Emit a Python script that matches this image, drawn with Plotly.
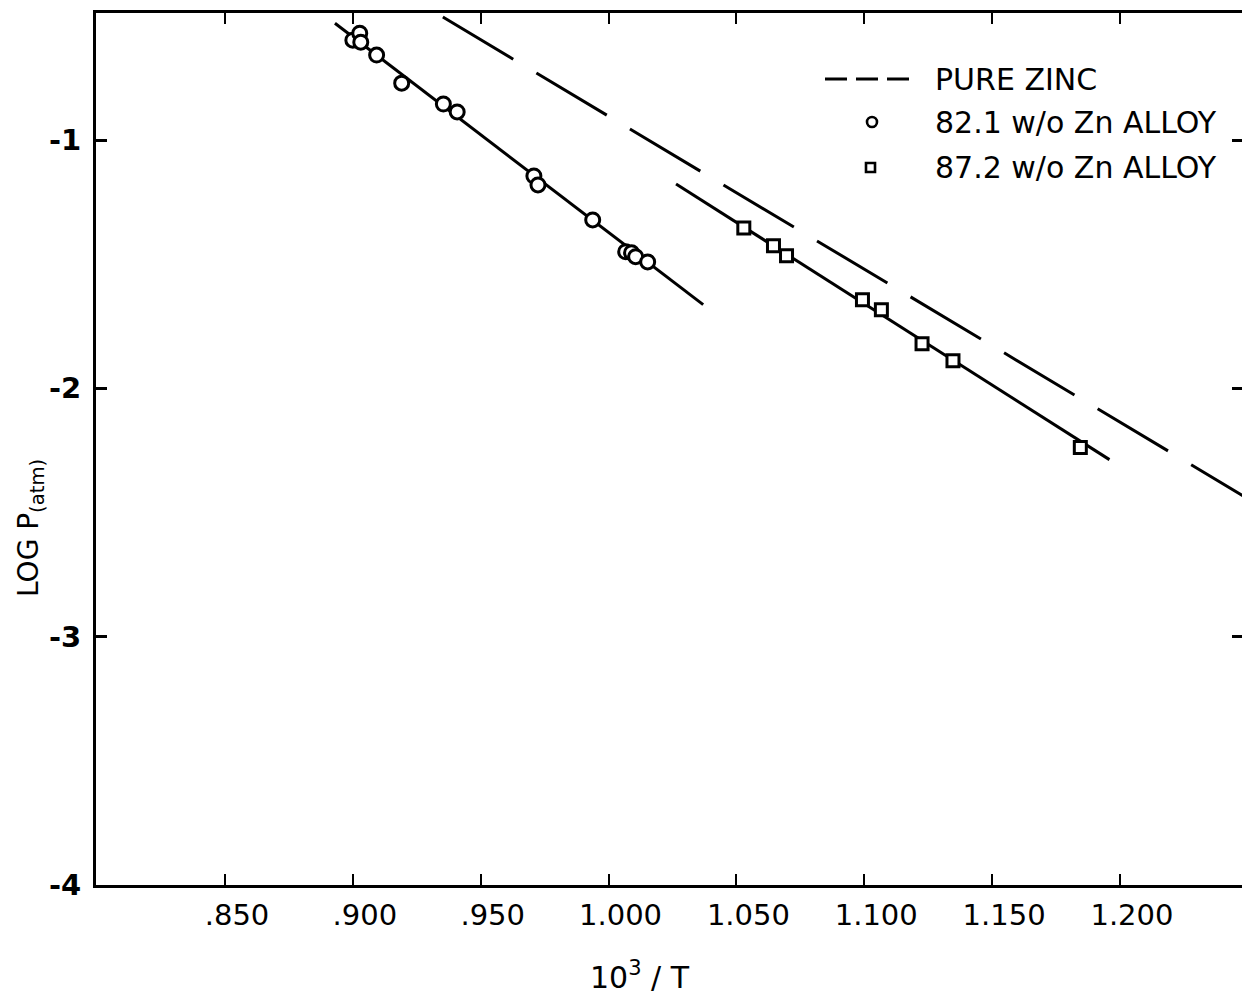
import plotly.graph_objects as go

# 82.1 w/o Zn alloy: measured points (10^3/T, log P)
alloy_821_x = [0.9000, 0.9027, 0.9031, 0.9093, 0.9191, 0.9354, 0.9408,
               0.9708, 0.9724, 0.9938, 1.0067, 1.0090, 1.0106, 1.0153]
alloy_821_y = [-0.598, -0.570, -0.606, -0.658, -0.771, -0.855, -0.887,
               -1.145, -1.181, -1.322, -1.450, -1.454, -1.470, -1.491]

# 87.2 w/o Zn alloy: measured points
alloy_872_x = [1.0529, 1.0645, 1.0696, 1.0993, 1.1067, 1.1226, 1.1347, 1.1845]
alloy_872_y = [-1.354, -1.426, -1.466, -1.643, -1.684, -1.820, -1.889, -2.238]

# fitted straight lines through each alloy set
fit_821_x = [0.8930, 1.0370]
fit_821_y = [-0.530, -1.663]
fit_872_x = [1.0264, 1.1959]
fit_872_y = [-1.177, -2.287]

# pure zinc reference line
zinc_x = [0.9352, 1.2490]
zinc_y = [-0.505, -2.438]

x_tick_vals = [0.850, 0.900, 0.950, 1.000, 1.050, 1.100, 1.150, 1.200]
x_tick_labels = [".850", ".900", ".950", "1.000", "1.050", "1.100", "1.150", "1.200"]
y_tick_vals = [-4, -3, -2, -1]
y_tick_labels = ["-4", "-3", "-2", "-1"]

legend_labels = ["PURE ZINC", "82.1 w/o Zn ALLOY", "87.2 w/o Zn ALLOY"]

FONT = "DejaVu Sans"
INK = "black"
LW = 3

# figure geometry (pixels)
W, H = 1242, 1001
ML, MR, MT, MB = 96, 0, 13, 116
PW, PH = W - ML - MR, H - MT - MB


def px_x(px):
    return (px - ML) / PW


def px_y(py):
    return 1 - (py - MT) / PH


fig = go.Figure()

fig.add_trace(go.Scatter(x=zinc_x, y=zinc_y, mode="lines",
                         line=dict(color=INK, width=LW, dash="82px,27px"),
                         showlegend=False, hoverinfo="skip"))
fig.add_trace(go.Scatter(x=fit_821_x, y=fit_821_y, mode="lines",
                         line=dict(color=INK, width=LW),
                         showlegend=False, hoverinfo="skip"))
fig.add_trace(go.Scatter(x=fit_872_x, y=fit_872_y, mode="lines",
                         line=dict(color=INK, width=LW),
                         showlegend=False, hoverinfo="skip"))
fig.add_trace(go.Scatter(x=alloy_821_x, y=alloy_821_y, mode="markers",
                         marker=dict(symbol="circle", size=14, color="white",
                                     line=dict(color=INK, width=LW)),
                         name=legend_labels[1], showlegend=False))
fig.add_trace(go.Scatter(x=alloy_872_x, y=alloy_872_y, mode="markers",
                         marker=dict(symbol="square", size=12, color="white",
                                     line=dict(color=INK, width=LW)),
                         name=legend_labels[2], showlegend=False))
# carrier for the right-hand tick axis
fig.add_trace(go.Scatter(x=[None], y=[None], yaxis="y2", mode="markers",
                         showlegend=False, hoverinfo="skip"))

x_range = [0.850 - (225 - ML) / 2557, 0.850 + (W - 225) / 2557]
y_range = [-4.0, -1 + (140 - MT) / 248.33]

fig.update_layout(
    width=W, height=H,
    margin=dict(l=ML, r=MR, t=MT, b=MB, autoexpand=False),
    paper_bgcolor="white", plot_bgcolor="white",
    font=dict(family=FONT, color=INK),
    showlegend=False,
    xaxis=dict(range=x_range, showgrid=False, zeroline=False,
               showline=True, linecolor=INK, linewidth=3, mirror="ticks",
               ticks="inside", ticklen=11, tickwidth=2, tickcolor=INK,
               tickvals=x_tick_vals, ticktext=x_tick_labels,
               tickfont=dict(family=FONT, size=29, color=INK),
               ticklabelstandoff=2, ticklabelshift=12),
    yaxis=dict(range=y_range, showgrid=False, zeroline=False,
               showline=True, linecolor=INK, linewidth=3,
               ticks="inside", ticklen=11, tickwidth=2.5, tickcolor=INK,
               tickvals=y_tick_vals, ticktext=y_tick_labels,
               tickfont=dict(family=FONT, size=29, color=INK, weight="bold"),
               ticklabelstandoff=6),
    yaxis2=dict(range=y_range, overlaying="y", side="right", showgrid=False,
                zeroline=False, showline=False, ticks="inside", ticklen=10,
                tickwidth=2.5, tickcolor=INK, tickvals=[-3, -2, -1],
                showticklabels=False),
)

annotations = [
    dict(text="10<sup>3</sup> / T", xref="paper", yref="paper",
         x=px_x(640), y=px_y(975), xanchor="center", yanchor="middle",
         showarrow=False, font=dict(family=FONT, size=30, color=INK)),
    dict(text="LOG P<sub>(atm)</sub>", xref="paper", yref="paper",
         x=px_x(30), y=px_y(528), xanchor="center", yanchor="middle",
         textangle=-90, showarrow=False,
         font=dict(family=FONT, size=28, color=INK)),
]
legend_rows_y = [79, 122, 167]
for label, ry in zip(legend_labels, legend_rows_y):
    annotations.append(dict(text=label, xref="paper", yref="paper",
                            x=px_x(933), y=px_y(ry), xanchor="left",
                            yanchor="middle", showarrow=False,
                            font=dict(family=FONT, size=30, color=INK)))
fig.update_layout(annotations=annotations)

# legend keys
fig.add_shape(type="line", xref="paper", yref="paper",
              x0=px_x(825), x1=px_x(910), y0=px_y(79), y1=px_y(79),
              line=dict(color=INK, width=LW, dash="22px,9px"))
fig.add_shape(type="circle", xref="paper", yref="paper",
              x0=px_x(867), x1=px_x(877), y0=px_y(117), y1=px_y(127),
              line=dict(color=INK, width=2.6), fillcolor="white")
fig.add_shape(type="rect", xref="paper", yref="paper",
              x0=px_x(866), x1=px_x(875), y0=px_y(163), y1=px_y(172),
              line=dict(color=INK, width=2.6), fillcolor="white")

fig.write_html("out.html")
